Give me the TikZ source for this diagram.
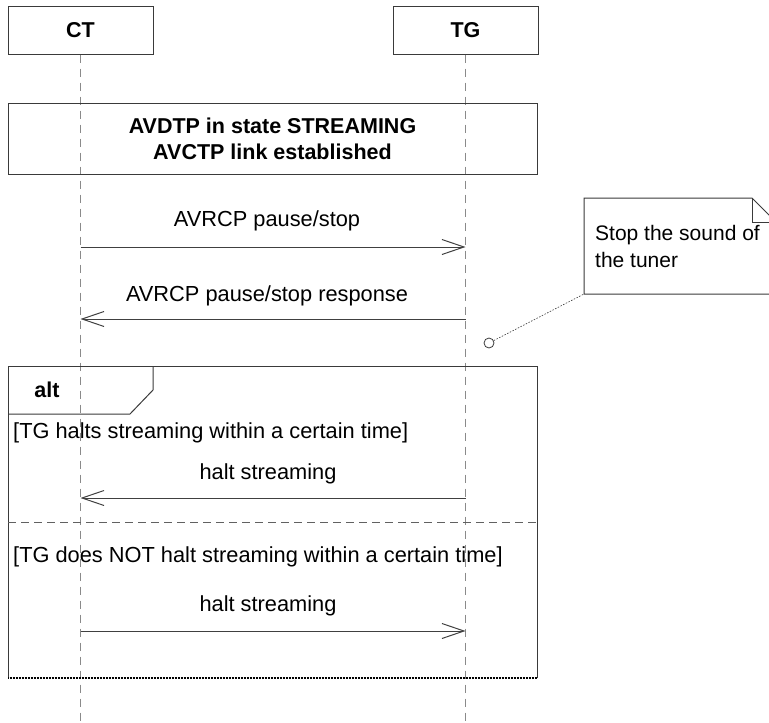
\documentclass[tikz,border=0pt]{standalone}
\usepackage{fontspec}
\setmainfont{Liberation Sans}
\usetikzlibrary{arrows.meta}
\definecolor{edgegray}{HTML}{3A3A3A}
\definecolor{lifegray}{HTML}{8A8A8A}
\definecolor{msggray}{HTML}{404040}
\begin{document}
\begin{tikzpicture}[x=1pt,y=-1pt,
  every node/.style={font=\fontsize{21.8}{26}\selectfont, inner sep=0pt, text=black},
  actor/.style={draw=edgegray, line width=1pt, minimum width=145pt, minimum height=48pt, font=\fontsize{21.5}{26}\selectfont\bfseries},
  statebox/.style={draw=edgegray, line width=1pt, minimum width=529pt, minimum height=71pt, align=center, font=\fontsize{21.5}{26}\selectfont\bfseries},
  lifeline/.style={draw=lifegray, line width=0.8pt, dash pattern=on 8pt off 6pt},
  msg/.style={draw=msggray, line width=1pt, -{Straight Barb[length=22pt,width=15pt,line width=1pt]}},
  label/.style={anchor=center},
  guard/.style={anchor=west},
  frameline/.style={draw=edgegray, line width=1pt},
  notelink/.style={draw=edgegray, line width=0.6pt, dash pattern=on 1.5pt off 1.5pt}
]
\useasboundingbox (0,0) rectangle (769,723);
\clip (0,0) rectangle (769,723);

% lifelines (drawn first so frames sit on top)
\coordinate (ctend) at (80.5,723);
\coordinate (tgend) at (465.5,723);
\node[actor] (ct) at (80.5,30) {CT};
\node[actor] (tg) at (465.5,30) {TG};
\draw[lifeline] (ct.south) -- (ctend);
\draw[lifeline] (tg.south) -- (tgend);

% state box
\node[statebox] (state) at (272.5,138.5) {AVDTP in state STREAMING\\AVCTP link established};

% request / response
\coordinate (ct1) at (80.5,247);  \coordinate (tg1) at (465.5,247);
\coordinate (ct2) at (80.5,319);  \coordinate (tg2) at (465.5,319);
\draw[msg] (ct1) -- (tg1);
\node[label] (l1) at (267,221) {AVRCP pause/stop};
\draw[msg] (tg2) -- (ct2);
\node[label] (l2) at (267,296) {AVRCP pause/stop response};

% note with folded corner
\coordinate (nbl) at (584,294);
\draw[frameline, fill=white] (nbl) -- (584,198) -- (752,198) -- (776,222) -- (776,294) -- cycle;
\draw[frameline] (752,198) -- (752,222) -- (776,222);
\node[anchor=west, align=left, font=\fontsize{21}{27}\selectfont] (notetext) at (595,246) {Stop the sound of\\the tuner};
\node[circle, draw=edgegray, line width=0.8pt, minimum size=10pt, fill=white] (pin) at (489,343) {};
\draw[notelink] (pin) -- (nbl);

% alt combined fragment
\draw[frameline] (8,678) -- (8,366) -- (537,366) -- (537,678);
\draw[black, line width=1.8pt, dash pattern=on 1pt off 0.5pt] (8,678) -- (537,678);
\draw[frameline] (8,414) -- (130,414) -- (153,390) -- (153,366);
\node[font=\fontsize{21.5}{26}\selectfont\bfseries] (alt) at (47,390) {alt};
\node[guard] (g1) at (13,433) {[TG halts streaming within a certain time]};
\draw[lifegray!70!black, line width=0.8pt, dash pattern=on 8pt off 5pt] (8,522) -- (537,522);
\node[guard] (g2) at (13,557) {[TG does NOT halt streaming within a certain time]};

\coordinate (ct3) at (80.5,498);  \coordinate (tg3) at (465.5,498);
\coordinate (ct4) at (80.5,631);  \coordinate (tg4) at (465.5,631);
\draw[msg] (tg3) -- (ct3);
\node[label] (l3) at (268,474) {halt streaming};
\draw[msg] (ct4) -- (tg4);
\node[label] (l4) at (268,606) {halt streaming};
\end{tikzpicture}
\end{document}
